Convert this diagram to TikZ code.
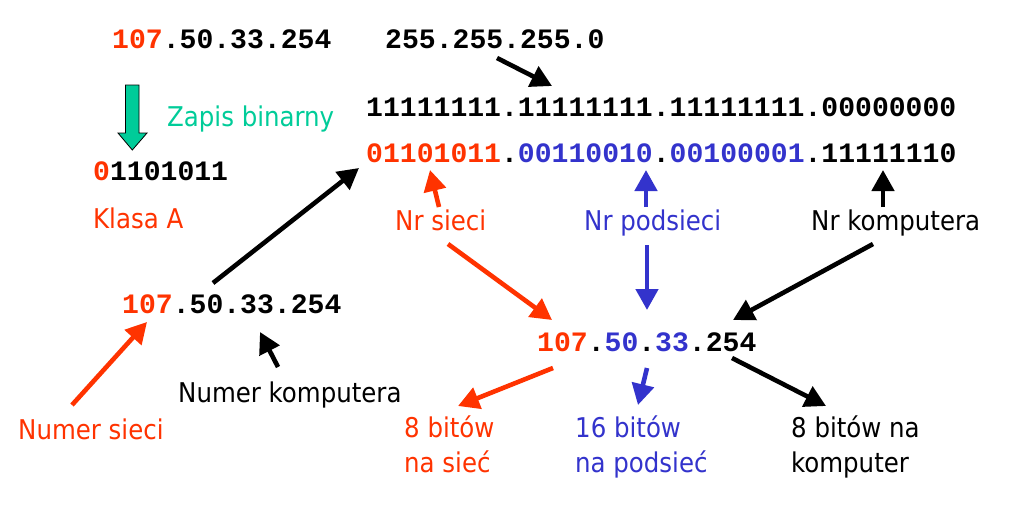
\documentclass[tikz,border=0pt]{standalone}
\usepackage{fontspec}
\setmainfont{DejaVu Sans Condensed}
\newfontfamily\monof{Liberation Mono}
\usetikzlibrary{arrows.meta}
\definecolor{cred}{RGB}{255,51,0}
\definecolor{cblue}{RGB}{51,51,204}
\definecolor{cgreen}{RGB}{0,204,153}
\tikzset{
  mono/.style={inner sep=0pt, anchor=base west, font=\monof\bfseries\fontsize{28.1}{30}\selectfont},
  lbl/.style={inner sep=0pt, anchor=base west, font=\fontsize{27.2}{30}\selectfont},
  arr/.style={line width=4.6pt, -{Triangle[length=21pt,width=22pt]}},
}
\begin{document}
\begin{tikzpicture}[x=1pt,y=-1pt]
\useasboundingbox (0,0) rectangle (1009,520);
\fill[white] (0,0) rectangle (1009,520);
% texts
\node[mono] (ip1) at (112,48) {\textcolor{cred}{107}.50.33.254};
\node[mono] (mask) at (385,48) {255.255.255.0};
\node[mono] (bin1) at (366,116) {11111111.11111111.11111111.00000000};
\node[mono] (bin2) at (366,162) {\textcolor{cred}{01101011}.\textcolor{cblue}{00110010}.\textcolor{cblue}{00100001}.11111110};
\node[mono] (oct) at (93,180) {\textcolor{cred}{0}1101011};
\node[lbl, text=cgreen] (zapis) at (167,126) {Zapis binarny};
\node[lbl, text=cred] (klasa) at (93,228) {Klasa A};
\node[mono] (ip2) at (122,313) {\textcolor{cred}{107}.50.33.254};
\node[mono] (ip3) at (537,351) {\textcolor{cred}{107}.\textcolor{cblue}{50}.\textcolor{cblue}{33}.254};
\node[lbl, text=cred] (nrs) at (395,230) {Nr sieci};
\node[lbl, text=cblue] (nrp) at (584,230) {Nr podsieci};
\node[lbl] (nrk) at (811,230) {Nr komputera};
\node[lbl] (numk) at (178,402) {Numer komputera};
\node[lbl, text=cred] (nums) at (18,439) {Numer sieci};
\node[lbl, text=cred] (b8a) at (404,437) {8 bitów};
\node[lbl, text=cred] (b8b) at (404,472) {na sieć};
\node[lbl, text=cblue] (b16a) at (575,437) {16 bitów};
\node[lbl, text=cblue] (b16b) at (575,472) {na podsieć};
\node[lbl] (bka) at (791,437) {8 bitów na};
\node[lbl] (bkb) at (791,472) {komputer};
% green block arrow
\filldraw[fill=cgreen, draw=black, line width=0.8pt]
  (125.5,85) -- (139,85) -- (139,133) -- (147,133) -- (132.3,150) -- (118,133) -- (125.5,133) -- cycle;
% arrow endpoints
\coordinate (a1s) at (497,58);   \coordinate (a1e) at (552,86);
\coordinate (a2s) at (213,283);  \coordinate (a2e) at (359,168);
\coordinate (a3s) at (439,207);  \coordinate (a3e) at (430,170);
\coordinate (a4s) at (646,207);  \coordinate (a4e) at (646,170);
\coordinate (a5s) at (883,207);  \coordinate (a5e) at (883,170);
\coordinate (a6s) at (448,244);  \coordinate (a6e) at (552,320);
\coordinate (a7s) at (647,245);  \coordinate (a7e) at (647,310);
\coordinate (a8s) at (873,244);  \coordinate (a8e) at (733,320);
\coordinate (a9s) at (553,368);  \coordinate (a9e) at (458,406);
\coordinate (a10s) at (647,368); \coordinate (a10e) at (638,405);
\coordinate (a11s) at (732,358); \coordinate (a11e) at (826,406);
\coordinate (a12s) at (72,405);  \coordinate (a12e) at (147,322);
\coordinate (a13s) at (278,367); \coordinate (a13e) at (260,332);
\draw[arr] (a1s) -- (a1e);
\draw[arr] (a2s) -- (a2e);
\draw[arr, cred] (a3s) -- (a3e);
\draw[arr, cblue] (a4s) -- (a4e);
\draw[arr] (a5s) -- (a5e);
\draw[arr, cred] (a6s) -- (a6e);
\draw[arr, cblue] (a7s) -- (a7e);
\draw[arr] (a8s) -- (a8e);
\draw[arr, cred] (a9s) -- (a9e);
\draw[arr, cblue] (a10s) -- (a10e);
\draw[arr] (a11s) -- (a11e);
\draw[arr, cred] (a12s) -- (a12e);
\draw[arr] (a13s) -- (a13e);
\end{tikzpicture}
\end{document}
